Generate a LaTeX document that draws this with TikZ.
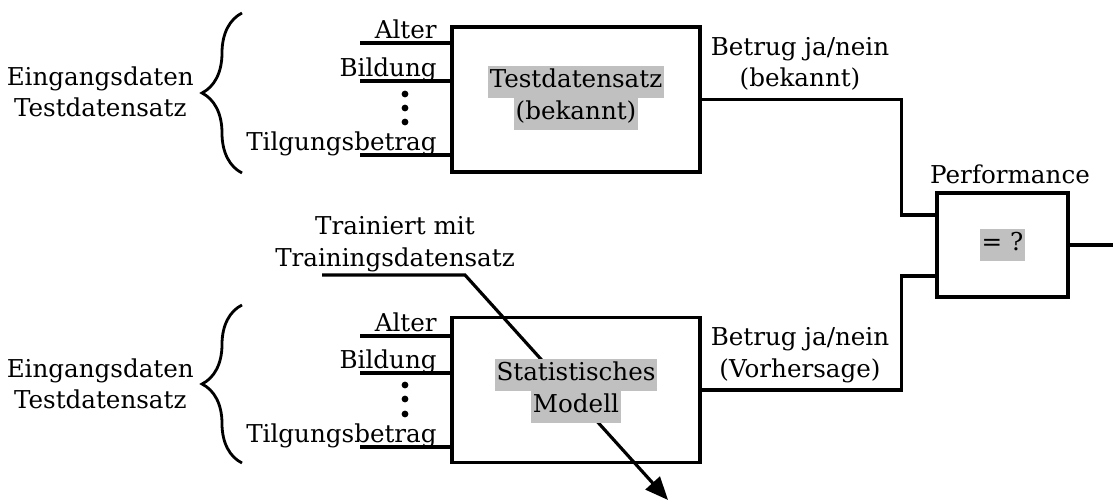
\documentclass[tikz,border=0pt]{standalone}
\usepackage{fontspec}
\setmainfont{DejaVu Serif}
\usetikzlibrary{positioning,decorations.pathreplacing,arrows.meta}
\definecolor{hlgray}{RGB}{192,192,192}
\tikzset{
	blk/.style={draw, line width=2pt, minimum width=49.6mm, minimum height=29mm},
	hl/.style={fill=hlgray, inner xsep=1pt, inner ysep=0pt, text height=4.3mm, text depth=2.1mm},
	wire/.style={line width=1.8pt},
	lbl/.style={inner sep=0pt, anchor=base east},
	brc/.style={decorate, decoration={brace, amplitude=8mm}, line width=1.6pt}
}
\begin{document}
\begin{tikzpicture}[x=.2mm, y=.2mm, font=\fontsize{14}{18}\selectfont, >={Triangle[length=4.6mm,width=3.8mm]}]
	\useasboundingbox (0,0) rectangle (1113,503);
	% Kaesten
	\node[blk] (test) at (576,403.5) {};
	\node[blk] (model) at (576,113) {};
	\node[blk, minimum width=26.2mm, minimum height=20.8mm] (perf) at (1002.5,258) {};
	% Eingaenge
	\foreach \n/\y/\t in {a/460/Alter, b/422/Bildung, c/348/Tilgungsbetrag}{
		\coordinate (ti\n) at (360,\y);
		\draw[wire] (ti\n) -- (ti\n -| test.west);
		\node[lbl] (tl\n) at (437,\y+4) {\t};
	}
	\foreach \n/\y/\t in {a/167/Alter, b/130/Bildung, c/56/Tilgungsbetrag}{
		\coordinate (mi\n) at (360,\y);
		\draw[wire] (mi\n) -- (mi\n -| model.west);
		\node[lbl] (ml\n) at (437,\y+4) {\t};
	}
	\foreach \y in {409,395,381} \fill (405,\y) circle (3.4);
	\foreach \y in {118,104,89} \fill (405,\y) circle (3.4);
	% Klammern
	\draw[brc] (242,330) -- (242,490);
	\draw[brc] (242,40) -- (242,198);
	\node[align=center, anchor=east] (ein1) at (200,411) {Eingangsdaten\\Testdatensatz};
	\node[align=center, anchor=east] (ein2) at (200,119) {Eingangsdaten\\Testdatensatz};
	% Ausgaenge
	\coordinate (pin1) at ([yshift=6mm]perf.west);
	\coordinate (pin2) at ([yshift=-6.2mm]perf.west);
	\coordinate (pout) at (1113,258);
	\draw[wire] (test.east) -- ++(200,0) |- (pin1);
	\draw[wire] (model.east) -- ++(200,0) |- (pin2);
	\draw[wire] (perf.east) -- (pout);
	\node[align=center] (btop) at (800,439) {Betrug ja/nein\\(bekannt)};
	\node[align=center] (bbot) at (800,148) {Betrug ja/nein\\(Vorhersage)};
	\node[above=.2mm of perf, xshift=1.5mm] (plbl) {Performance};
	% Training
	\node[align=center] (train) at (395,259) {Trainiert mit\\Trainingsdatensatz};
	\coordinate (ua) at (322,228);
	\coordinate (ub) at (465,228);
	\coordinate (tip) at (668,3);
	\draw[wire, ->] (ua) -- (ub) -- (tip);
	% Beschriftungen in den Kaesten
	\node[hl] (td1) at (576,420.5) {Testdatensatz};
	\node[hl, below=-.4pt of td1] (td2) {(bekannt)};
	\node[hl] (st1) at (576,128) {Statistisches};
	\node[hl, below=-.4pt of st1] (st2) {Modell};
	\node[hl] (eq) at (perf) {= ?};
\end{tikzpicture}
\end{document}
